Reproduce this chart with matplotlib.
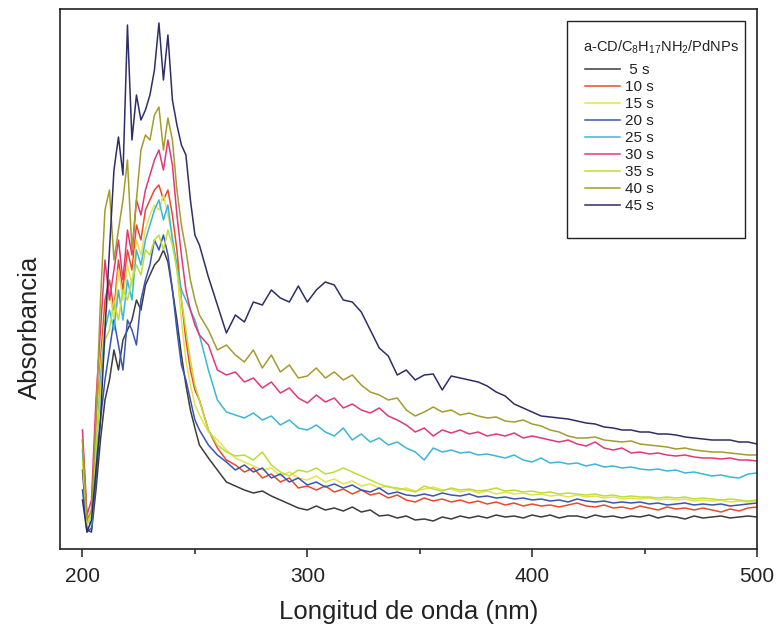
import numpy as np
import matplotlib
matplotlib.use("Agg")
import matplotlib.pyplot as plt
from matplotlib.patches import Rectangle
from matplotlib.ticker import MultipleLocator

plt.rcParams['font.family'] = ['Liberation Sans', 'DejaVu Sans']
plt.rcParams['mathtext.default'] = 'regular'

# Wavelength grid (nm): 2 nm steps over the band, 4 nm steps in the tail
wavelength = np.concatenate([np.arange(200, 252, 2), np.arange(252, 501, 4)])

# Absorbance (arbitrary units) for each irradiation time
abs_5s = [79, 19, 17, 59, 109, 149, 169, 199, 179, 209, 219, 229, 249, 239, 264, 274, 284, 289, 299, 287, 259, 229, 194, 164, 139, 121,
          104, 91, 79, 67, 63, 59, 56, 58, 53, 49, 45, 41, 39, 43, 39, 41, 38, 42, 37, 39, 33, 34, 31, 33, 29, 30, 28, 32, 30, 33,
          31, 33, 31, 34, 32, 33, 31, 34, 32, 34, 31, 33, 33, 31, 34, 32, 33, 31, 33, 32, 34, 31, 33, 32, 30, 33, 31, 32, 33, 31,
          32, 33, 32]
abs_10s = [109, 29, 34, 119, 189, 249, 269, 239, 289, 259, 299, 279, 324, 309, 339, 349, 359, 364, 349, 359, 334, 299, 249, 209, 179, 159,
           149, 119, 101, 89, 84, 77, 81, 71, 75, 67, 71, 61, 63, 59, 63, 57, 60, 55, 59, 54, 56, 51, 54, 49, 47, 51, 48, 50, 47, 49,
           46, 48, 45, 47, 44, 46, 43, 45, 43, 44, 42, 44, 46, 43, 42, 44, 41, 42, 40, 43, 41, 39, 42, 40, 41, 39, 41, 39, 37, 40,
           38, 41, 42]
abs_15s = [99, 27, 37, 109, 179, 229, 259, 229, 279, 249, 284, 264, 309, 294, 319, 334, 344, 339, 354, 334, 314, 279, 229, 189, 164, 144,
           134, 117, 109, 99, 91, 87, 83, 79, 81, 73, 77, 71, 69, 73, 67, 70, 65, 68, 63, 65, 61, 63, 59, 61, 58, 60, 62, 59, 60, 57,
           59, 56, 58, 55, 57, 55, 56, 54, 55, 53, 54, 52, 54, 52, 53, 51, 52, 50, 51, 50, 51, 49, 50, 49, 50, 48, 49, 48, 49, 47,
           48, 47, 48]
abs_20s = [59, 17, 21, 69, 129, 169, 199, 229, 204, 179, 229, 219, 204, 249, 269, 284, 309, 299, 314, 294, 259, 219, 184, 169, 149, 129,
           119, 104, 94, 87, 79, 84, 77, 81, 71, 75, 67, 71, 64, 67, 62, 65, 61, 64, 59, 57, 61, 55, 57, 54, 53, 55, 53, 56, 54, 53,
           55, 52, 53, 51, 52, 50, 51, 49, 50, 48, 49, 47, 50, 48, 47, 48, 46, 47, 46, 47, 45, 46, 44, 45, 46, 44, 45, 44, 45, 43,
           44, 45, 46]
abs_25s = [99, 29, 24, 89, 169, 219, 239, 219, 259, 229, 269, 249, 299, 284, 309, 324, 339, 349, 329, 344, 309, 284, 259, 249, 239, 229,
           214, 179, 149, 137, 134, 131, 136, 129, 133, 124, 129, 121, 119, 124, 117, 113, 121, 109, 115, 107, 111, 104, 107, 101, 97, 89,
           101, 97, 99, 96, 97, 94, 95, 93, 91, 94, 89, 87, 91, 86, 87, 85, 86, 83, 85, 82, 83, 81, 82, 80, 79, 80, 78, 79, 76, 77,
           75, 73, 74, 72, 71, 75, 76]
abs_30s = [119, 34, 49, 149, 219, 289, 249, 279, 309, 269, 319, 294, 349, 334, 359, 374, 389, 399, 379, 409, 384, 334, 294, 259, 239, 224,
           214, 204, 179, 174, 177, 167, 171, 161, 167, 156, 161, 151, 146, 154, 147, 151, 141, 145, 139, 136, 141, 133, 129, 124, 117, 121,
           113, 119, 116, 119, 115, 117, 113, 115, 113, 116, 111, 113, 111, 109, 107, 109, 105, 103, 107, 101, 99, 101, 96, 97, 95, 96,
           94, 93, 94, 92, 91, 91, 90, 91, 89, 89, 88]
abs_35s = [89, 24, 34, 99, 159, 209, 219, 249, 229, 259, 249, 269, 284, 274, 299, 294, 309, 314, 299, 319, 304, 279, 249, 219, 189, 164,
           149, 119, 104, 97, 93, 94, 89, 97, 84, 77, 73, 79, 77, 81, 75, 77, 81, 77, 73, 69, 65, 62, 61, 59, 57, 63, 60, 58, 61, 59,
           60, 58, 59, 61, 58, 59, 57, 58, 56, 57, 55, 56, 55, 54, 55, 53, 54, 52, 53, 52, 52, 51, 52, 51, 52, 50, 51, 50, 49, 50,
           49, 48, 49]
abs_40s = [109, 29, 39, 129, 249, 339, 359, 289, 319, 349, 389, 299, 349, 399, 414, 409, 434, 442, 399, 431, 409, 359, 324, 299, 269, 249,
           234, 219, 199, 204, 194, 187, 199, 181, 194, 177, 184, 171, 173, 181, 171, 177, 169, 174, 164, 157, 154, 149, 151, 139, 133, 137,
           142, 137, 139, 134, 136, 133, 131, 132, 128, 127, 129, 125, 123, 119, 117, 113, 111, 111, 112, 109, 108, 107, 108, 105, 104, 103,
           102, 100, 101, 99, 98, 97, 97, 96, 95, 94, 94]
abs_45s = [49, 17, 29, 79, 129, 219, 299, 379, 412, 374, 524, 409, 454, 429, 439, 454, 479, 526, 469, 514, 449, 424, 404, 394, 349, 314,
           304, 272, 244, 216, 234, 227, 247, 244, 259, 251, 247, 263, 247, 259, 267, 264, 249, 247, 237, 219, 201, 193, 174, 179, 169, 174,
           175, 159, 173, 171, 169, 167, 163, 157, 153, 145, 141, 137, 133, 132, 131, 130, 128, 126, 125, 122, 121, 119, 119, 117, 117, 115,
           115, 114, 112, 111, 110, 109, 109, 109, 107, 107, 105]

series_labels = [' 5 s', '10 s', '15 s', '20 s', '25 s', '30 s', '35 s', '40 s', '45 s']
series_values = [abs_5s, abs_10s, abs_15s, abs_20s, abs_25s, abs_30s, abs_35s, abs_40s, abs_45s]
series_colors = ['#3c3c3c', '#ea4a2a', '#e6e24e', '#3a54b4', '#3cb6d8',
                 '#e2387a', '#bcde3a', '#a49c2c', '#2e2e66']
legend_title = 'a-CD/C$_8$H$_{17}$NH$_2$/PdNPs'

fig = plt.figure(figsize=(7.78, 6.37), dpi=100)
ax = fig.add_axes([60 / 778, 1 - 549 / 637, (757 - 60) / 778, (549 - 9) / 637])

handles = []
for lab, vals, col in zip(series_labels, series_values, series_colors):
    h, = ax.plot(wavelength, vals, color=col, lw=1.1, label=lab)
    handles.append(h)

ax.set_xlim(190, 500)
ax.set_ylim(0, 540)
ax.xaxis.set_major_locator(MultipleLocator(100))
ax.xaxis.set_minor_locator(MultipleLocator(50))
ax.set_yticks([])
ax.tick_params(axis='x', which='major', direction='out', length=6, width=1.1,
               labelsize=15, colors='#222222', pad=7)
ax.tick_params(axis='x', which='minor', direction='out', length=3.5, width=1.1, colors='#222222')
for sp in ax.spines.values():
    sp.set_linewidth(1.2)
    sp.set_color('#222222')

ax.set_xlabel('Longitud de onda (nm)', fontsize=18.5, color='#222222', labelpad=10)
ax.set_ylabel('Absorbancia', fontsize=18.5, color='#222222')
ax.yaxis.set_label_coords(-0.026, 0.41)

# Legend: framed box, title line, then one row per series
ax.add_patch(Rectangle((567 / 778, 1 - 238 / 637), (745 - 567) / 778, (238 - 21) / 637,
                       transform=fig.transFigure, fill=False, edgecolor='#222222', lw=1.0,
                       zorder=5, clip_on=False))
fig.text(583 / 778, 1 - 47 / 637, legend_title, fontsize=10.5, color='#222222',
         ha='left', va='center')
leg = ax.legend(handles=handles, loc='upper left',
                bbox_to_anchor=(585 / 778, 1 - 63 / 637), bbox_transform=fig.transFigure,
                frameon=False, fontsize=11, handlelength=2.3, borderaxespad=0,
                handletextpad=0.35, labelspacing=0.2, borderpad=0)
for t in leg.get_texts():
    t.set_color('#222222')

fig.savefig('out.png', dpi=100)
